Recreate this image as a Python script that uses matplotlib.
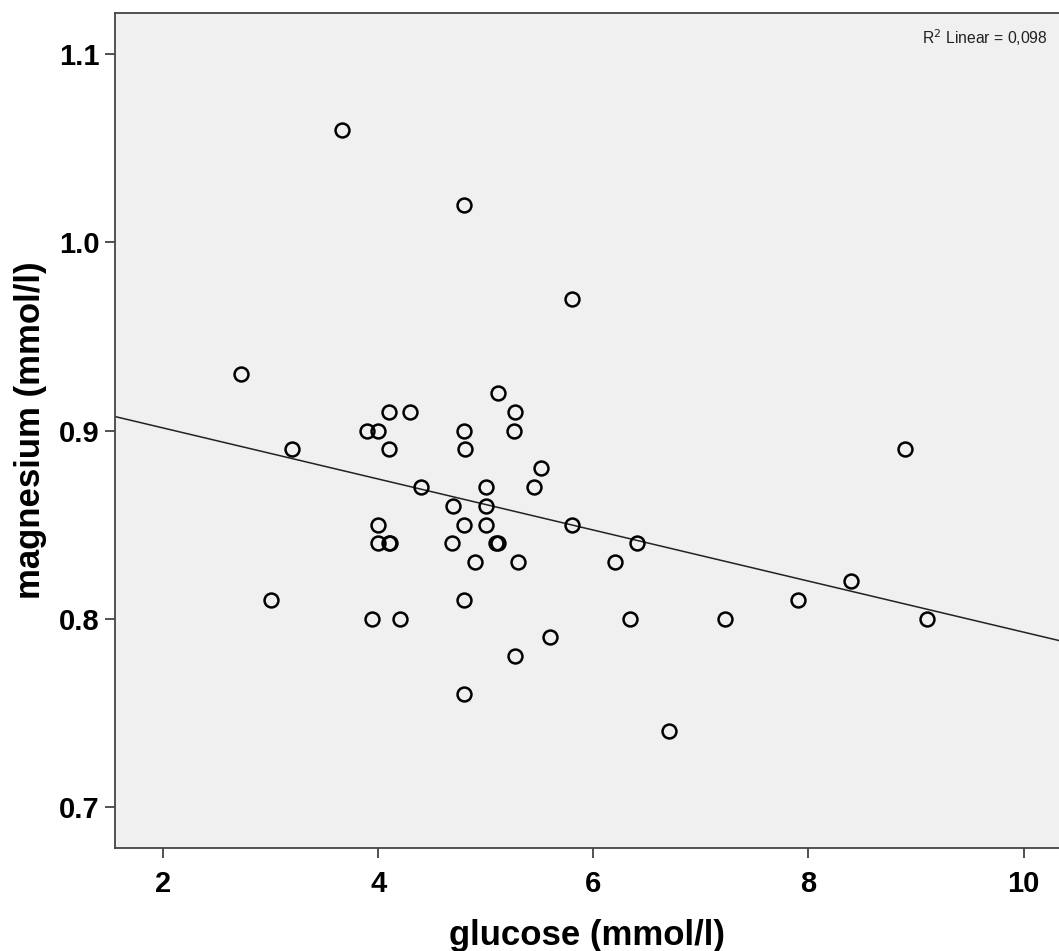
import numpy as np
import matplotlib.pyplot as plt

# glucose (mmol/l) vs magnesium (mmol/l)
glucose = [3.665, 4.80, 5.80, 2.72, 5.11, 4.10, 4.30, 5.27, 3.90, 4.00,
           4.80, 5.26, 3.20, 4.10, 4.81, 8.90, 5.51, 4.40, 5.00, 5.45,
           4.70, 5.00, 4.00, 4.80, 5.00, 5.80, 4.00, 4.10, 4.11, 4.69,
           5.10, 5.11, 6.41, 4.90, 5.30, 6.20, 8.40, 3.00, 4.80, 7.90,
           3.94, 4.20, 6.34, 7.22, 9.10, 5.60, 5.27, 4.80, 6.70]
magnesium = [1.06, 1.02, 0.97, 0.93, 0.92, 0.91, 0.91, 0.91, 0.90, 0.90,
             0.90, 0.90, 0.89, 0.89, 0.89, 0.89, 0.88, 0.87, 0.87, 0.87,
             0.86, 0.86, 0.85, 0.85, 0.85, 0.85, 0.84, 0.84, 0.84, 0.84,
             0.84, 0.84, 0.84, 0.83, 0.83, 0.83, 0.82, 0.81, 0.81, 0.81,
             0.80, 0.80, 0.80, 0.80, 0.80, 0.79, 0.78, 0.76, 0.74]

# fit line as drawn in the original (intercept, slope)
fit_intercept = 0.9285
fit_slope = -0.01357
r2_label = "R$^2$ Linear = 0,098"

xticks = [2, 4, 6, 8, 10]
yticks = [0.7, 0.8, 0.9, 1.0, 1.1]

plt.rcParams['font.family'] = ['Liberation Sans', 'DejaVu Sans']

fig = plt.figure(figsize=(10.59, 9.51), dpi=100)
ax = fig.add_axes([0.1086, 0.1083, 0.8914, 0.878])
ax.set_facecolor('#f0f0f0')

xmin, xmax = 1.553, 10.33
ax.set_xlim(xmin, xmax)
ax.set_ylim(0.678, 1.122)

xl = np.array([xmin, xmax])
ax.plot(xl, fit_intercept + fit_slope * xl, color='#222222', lw=1.1, zorder=2)

ax.plot(glucose, magnesium, 'o', ms=10, mfc='none', mec='black', mew=1.8,
        zorder=3, clip_on=False)

ax.set_xticks(xticks)
ax.set_xticklabels([str(t) for t in xticks])
ax.set_yticks(yticks)
ax.set_yticklabels([f"{t:.1f}" for t in yticks])
ax.tick_params(direction='out', length=7, width=1.2, color='#333333',
               labelsize=21, pad=4)
ax.tick_params(axis='x', pad=9)
for lab in ax.get_xticklabels() + ax.get_yticklabels():
    lab.set_fontweight('bold')

for side in ['left', 'bottom', 'top']:
    ax.spines[side].set_color('#444444')
    ax.spines[side].set_linewidth(1.3)
ax.spines['right'].set_visible(False)

ax.set_xlabel('glucose (mmol/l)', fontsize=25, fontweight='bold', labelpad=15)
ax.set_ylabel('magnesium (mmol/l)', fontsize=25, fontweight='bold', labelpad=9)

ax.text(0.988, 0.971, r2_label, transform=ax.transAxes, ha='right', va='center',
        fontsize=11.3, color='#222222')

fig.savefig('out.png', dpi=100)
